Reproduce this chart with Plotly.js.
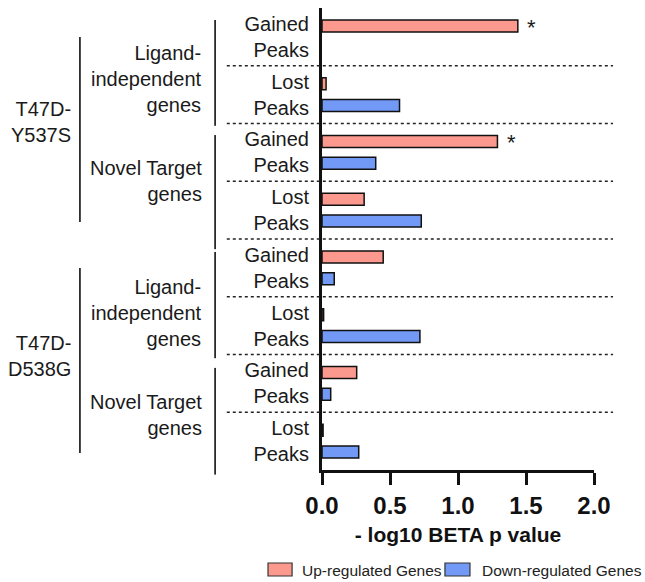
<!DOCTYPE html>
<html>
<head>
<meta charset="utf-8">
<script src="https://cdn.plot.ly/plotly-3.0.1.min.js"></script>
<style>html,body{margin:0;padding:0;background:#fff;}#chart{width:645px;height:582px;}</style>
</head>
<body>
<div id="chart"></div>
<script>
// ---- data ----
const peakLabels = ["Gained<br>Peaks","Lost<br>Peaks","Gained<br>Peaks","Lost<br>Peaks",
                    "Gained<br>Peaks","Lost<br>Peaks","Gained<br>Peaks","Lost<br>Peaks"];
const upRegulated   = [1.44, 0.03, 1.29, 0.31, 0.45, 0.012, 0.255, 0.008];
const downRegulated = [0.0, 0.57, 0.395, 0.73, 0.09, 0.72, 0.064, 0.27];
const significant   = [true, false, true, false, false, false, false, false];
const geneSetLabels = ["Ligand-<br>independent<br>genes","Novel Target<br>genes",
                       "Ligand-<br>independent<br>genes","Novel Target<br>genes"];
const cellLineLabels = ["T47D-<br>Y537S","T47D-<br>D538G"];
const seriesNames = ["Up-regulated Genes", "Down-regulated Genes"];
const seriesColors = ["#FC998E", "#7399F6"];
const xTicks = [0, 0.5, 1.0, 1.5, 2.0];

const rows = peakLabels.map((_, i) => i);
const FONT = "Liberation Sans, Arial, sans-serif";
const TXT = "#1a1a1a";
const bargap = 0.25;
const slot = (1 - bargap) / 2;
const outline = v => v.map(d => d > 0 ? 1.5 : 0);

const traces = [
  {type:"bar", orientation:"h", name:seriesNames[0], x:upRegulated, y:rows,
   marker:{color:seriesColors[0], line:{color:"#111", width:outline(upRegulated)}}},
  {type:"bar", orientation:"h", name:seriesNames[1], x:downRegulated, y:rows,
   marker:{color:seriesColors[1], line:{color:"#111", width:outline(downRegulated)}}}
];

const shapes = [];
// dotted separators between peak rows
for (let i = 0; i < rows.length - 1; i++) {
  shapes.push({type:"line", xref:"paper", yref:"y", x0:-0.35, x1:1.07, y0:i+0.5, y1:i+0.5,
               line:{color:"#222", width:1.5, dash:"dot"}});
}
// gene set brackets (pixel-derived paper positions)
const geneSpans = [[0.974,0.745],[0.725,0.478],[0.472,0.242],[0.221,-0.01]];
geneSpans.forEach(s => shapes.push({type:"line", xref:"paper", yref:"paper", x0:-0.393, x1:-0.393,
  y0:s[0], y1:s[1], line:{color:"#2a2a2a", width:1.8}}));
const cellSpans = [[0.937,0.537],[0.437,0.037]];
cellSpans.forEach(s => shapes.push({type:"line", xref:"paper", yref:"paper", x0:-0.89, x1:-0.89,
  y0:s[0], y1:s[1], line:{color:"#2a2a2a", width:1.8}}));

const annotations = [];
const geneY = [0.846, 0.625, 0.340, 0.119];
geneSetLabels.forEach((t, i) => annotations.push({xref:"paper", yref:"paper", x:-0.435, y:geneY[i],
  xanchor:"right", yanchor:"middle", align:"right", text:t, showarrow:false,
  font:{family:FONT, size:20, color:TXT}}));
const cellY = [0.753, 0.247];
cellLineLabels.forEach((t, i) => annotations.push({xref:"paper", yref:"paper", x:-0.915, y:cellY[i],
  xanchor:"right", yanchor:"middle", align:"right", text:t, showarrow:false,
  font:{family:FONT, size:20, color:TXT}}));
significant.forEach((s, i) => { if (s) annotations.push({xref:"x", yref:"y", x:upRegulated[i], y:i - slot/2,
  xanchor:"center", yanchor:"middle", xshift:14, yshift:-1, text:"*", showarrow:false,
  font:{family:FONT, size:22, color:TXT}}); });

// legend (drawn below the axis title)
const legendSwatchX = [[-0.1985, -0.110], [0.452, 0.544]];
const legendTextX = [-0.081, 0.581];
seriesNames.forEach((n, i) => {
  shapes.push({type:"rect", xref:"paper", yref:"paper", x0:legendSwatchX[i][0], x1:legendSwatchX[i][1],
    y0:-0.2294, y1:-0.2013, fillcolor:seriesColors[i], line:{color:"#333", width:1.2}});
  annotations.push({xref:"paper", yref:"paper", x:legendTextX[i], y:-0.2165, xanchor:"left", yanchor:"middle",
    text:n, showarrow:false, font:{family:FONT, size:15.5, color:"#222"}});
});

const layout = {
  width:645, height:582,
  margin:{l:322, r:51, t:8, b:112, pad:0},
  paper_bgcolor:"#fff", plot_bgcolor:"#fff",
  barmode:"group", bargap:bargap, bargroupgap:0.45,
  font:{family:FONT, color:TXT},
  showlegend:false,
  xaxis:{range:[0,2], tickvals:xTicks, tickformat:".1f", showgrid:false, zeroline:false,
    showline:true, linecolor:"#111", linewidth:3, ticks:"outside", ticklen:12, tickwidth:3, tickcolor:"#111",
    ticklabelstandoff:0, automargin:false,
    tickfont:{family:FONT, size:24, weight:"bold", color:"#111"},
    title:{text:"- log10 BETA p value", standoff:10, font:{family:FONT, size:21, weight:"bold", color:"#111"}}},
  yaxis:{range:[rows.length-0.5, -0.5], tickvals:rows, ticktext:peakLabels, showgrid:false, zeroline:false,
    showline:true, linecolor:"#111", linewidth:3, ticks:"", ticklabelstandoff:6, automargin:false,
    tickfont:{family:FONT, size:20, color:TXT}},
  shapes:shapes, annotations:annotations
};

Plotly.newPlot("chart", traces, layout, {displayModeBar:false, staticPlot:true});
</script>
</body>
</html>
